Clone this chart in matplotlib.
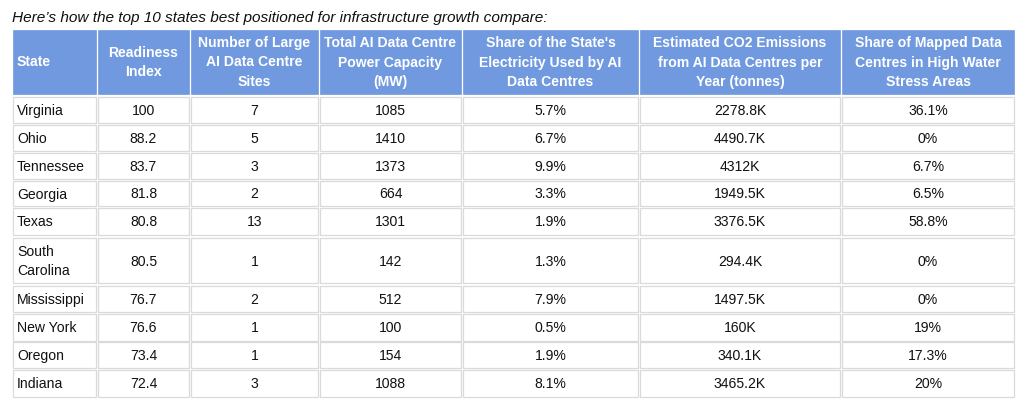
import matplotlib
matplotlib.use("Agg")
import matplotlib.pyplot as plt
from matplotlib.patches import Rectangle

plt.rcParams['font.family'] = ['Liberation Sans', 'DejaVu Sans']

title = "Here\u2019s how the top 10 states best positioned for infrastructure growth compare:"
headers = ["State", "Readiness\nIndex", "Number of Large\nAI Data Centre\nSites",
           "Total AI Data Centre\nPower Capacity\n(MW)",
           "Share of the State's\nElectricity Used by AI\nData Centres",
           "Estimated CO2 Emissions\nfrom AI Data Centres per\nYear (tonnes)",
           "Share of Mapped Data\nCentres in High Water\nStress Areas"]
states = ["Virginia", "Ohio", "Tennessee", "Georgia", "Texas", "South\nCarolina",
          "Mississippi", "New York", "Oregon", "Indiana"]
readiness = ["100", "88.2", "83.7", "81.8", "80.8", "80.5", "76.7", "76.6", "73.4", "72.4"]
sites = ["7", "5", "3", "2", "13", "1", "2", "1", "1", "3"]
capacity_mw = ["1085", "1410", "1373", "664", "1301", "142", "512", "100", "154", "1088"]
elec_share = ["5.7%", "6.7%", "9.9%", "3.3%", "1.9%", "1.3%", "7.9%", "0.5%", "1.9%", "8.1%"]
co2 = ["2278.8K", "4490.7K", "4312K", "1949.5K", "3376.5K", "294.4K", "1497.5K", "160K", "340.1K", "3465.2K"]
water_stress = ["36.1%", "0%", "6.7%", "6.5%", "58.8%", "0%", "0%", "19%", "17.3%", "20%"]

columns = [states, readiness, sites, capacity_mw, elec_share, co2, water_stress]

# layout (pixels)
W, H = 1024, 403
col_edges = [(13, 96), (98, 189), (191, 318), (320, 461), (463, 638), (640, 840), (842, 1014)]
row_edges = [(30, 94), (97, 123), (125, 151), (153, 179), (181, 206), (208, 235),
             (238, 283), (286, 312), (314, 341), (342, 368), (370, 397)]
header_blue = "#7099df"
border_gray = "#dadada"
fs = 10.1

fig = plt.figure(figsize=(W / 100, H / 100), dpi=100)
ax = fig.add_axes([0, 0, 1, 1])
ax.set_xlim(0, W)
ax.set_ylim(H, 0)
ax.axis('off')

ax.text(12, 22, title, fontsize=11.1, style='italic', color='#111111', va='baseline', ha='left')

for ci, (x0, x1) in enumerate(col_edges):
    # header cell
    y0, y1 = row_edges[0]
    ax.add_patch(Rectangle((x0, y0), x1 - x0, y1 - y0, facecolor=header_blue,
                           edgecolor=header_blue, linewidth=0.5))
    if ci == 0:
        ax.text(x0 + 4, (y0 + y1) / 2 + 0.5, headers[ci], color='white', fontsize=fs,
                fontweight='bold', ha='left', va='center', linespacing=1.46)
    else:
        ax.text((x0 + x1) / 2, (y0 + y1) / 2 + 0.5, headers[ci], color='white', fontsize=fs,
                fontweight='bold', ha='center', va='center', linespacing=1.46,
                multialignment='center')
    for ri, val in enumerate(columns[ci]):
        y0, y1 = row_edges[ri + 1]
        ax.add_patch(Rectangle((x0, y0), x1 - x0, y1 - y0, facecolor='white',
                               edgecolor=border_gray, linewidth=0.9))
        if ci == 0:
            ax.text(x0 + 4, (y0 + y1) / 2 + 1, val, color='#111111', fontsize=fs,
                    ha='left', va='center', linespacing=1.52)
        else:
            ax.text((x0 + x1) / 2, (y0 + y1) / 2 + 1, val, color='#111111', fontsize=fs,
                    ha='center', va='center')

fig.savefig("out.png", dpi=100, facecolor='white')
